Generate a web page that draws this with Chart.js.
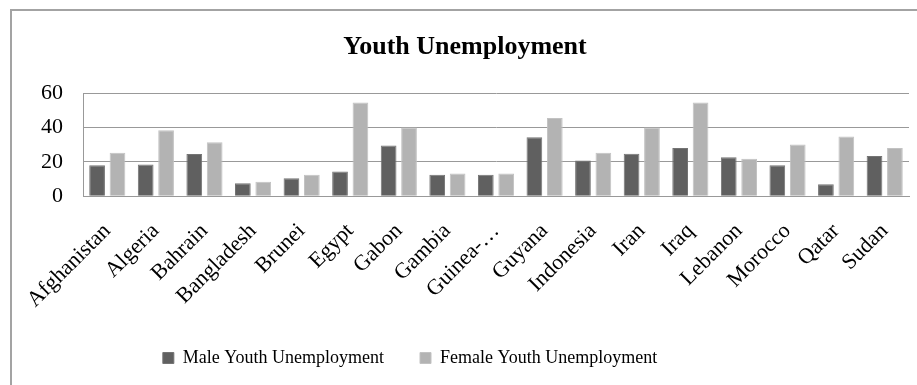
<!DOCTYPE html>
<html>
<head>
<meta charset="utf-8">
<script src="https://cdn.jsdelivr.net/npm/chart.js@4"></script>
<style>
  html, body { margin: 0; padding: 0; background: #fff; overflow: hidden; }
  #frame {
    position: absolute; left: 10px; top: 9px;
    width: 940px; height: 400px;
    border-left: 2px solid #a3a3a3; border-top: 2px solid #a3a3a3;
  }
  #chart { display: block; }
</style>
</head>
<body>
<div id="frame"><canvas id="chart" width="918" height="374"></canvas></div>
<script>
const countries = ['Afghanistan', 'Algeria', 'Bahrain', 'Bangladesh', 'Brunei', 'Egypt', 'Gabon',
  'Gambia', 'Guinea-\u2026', 'Guyana', 'Indonesia', 'Iran', 'Iraq', 'Lebanon', 'Morocco', 'Qatar', 'Sudan'];
const maleRate   = [18, 18.5, 24.6, 7.6, 10.5, 14.5, 29.6, 12.6, 12.6, 34.4, 20.8, 24.8, 28.1, 22.7, 18, 7, 23.5];
const femaleRate = [25.3, 38.4, 31.5, 8.4, 12.6, 54.6, 40.1, 13.2, 13.2, 45.6, 25.3, 40.1, 54.6, 21.9, 30.2, 34.8, 28.1];
const yTicks = [0, 20, 40, 60];

const serif = 'Liberation Serif, Times New Roman, serif';

// bottom legend sits left of centre, nudge it after layout
const legendShift = {
  id: 'legendShift',
  afterLayout(chart) {
    const lg = chart.legend;
    if (lg) { lg.left -= 55; lg.right -= 55; }
  }
};

new Chart(document.getElementById('chart'), {
  type: 'bar',
  data: {
    labels: countries,
    datasets: [
      { label: 'Male Youth Unemployment', data: maleRate,
        backgroundColor: '#606060', borderColor: '#747474', borderWidth: 1 },
      { label: 'Female Youth Unemployment', data: femaleRate,
        backgroundColor: '#b3b3b3', borderColor: '#c2c2c2', borderWidth: 1 }
    ]
  },
  options: {
    responsive: false,
    animation: false,
    events: [],
    datasets: { bar: { categoryPercentage: 0.84, barPercentage: 0.77 } },
    layout: { padding: { left: 9, right: 21, top: 0, bottom: 8 } },
    plugins: {
      title: {
        display: true,
        text: 'Youth Unemployment',
        color: '#000',
        font: { family: serif, size: 26, weight: 'bold' },
        padding: { top: 21, bottom: 30 }
      },
      legend: {
        position: 'bottom',
        labels: {
          color: '#000',
          font: { family: serif, size: 18 },
          boxWidth: 11, boxHeight: 11,
          padding: 36
        }
      },
      tooltip: { enabled: false }
    },
    scales: {
      x: {
        grid: { display: false, drawTicks: false },
        border: { display: true, color: '#999', width: 1 },
        ticks: {
          color: '#000',
          font: { family: serif, size: 22 },
          minRotation: 45, maxRotation: 45,
          autoSkip: false,
          padding: 22
        },
        // rotated first label already fits left of the plot, skip the extra room;
        // labels may also run into the gap above the legend
        afterFit(scale) {
          scale.paddingLeft = 0;
          scale.paddingRight = 0;
          scale.height -= 22;
        }
      },
      y: {
        min: 0, max: 60,
        afterBuildTicks(scale) { scale.ticks = yTicks.map(v => ({ value: v })); },
        grid: { color: '#999', lineWidth: 1, drawTicks: false },
        border: { display: true, color: '#999', width: 1 },
        ticks: {
          color: '#000',
          font: { family: serif, size: 22 },
          padding: 20
        }
      }
    }
  },
  plugins: [legendShift]
});
</script>
</body>
</html>
